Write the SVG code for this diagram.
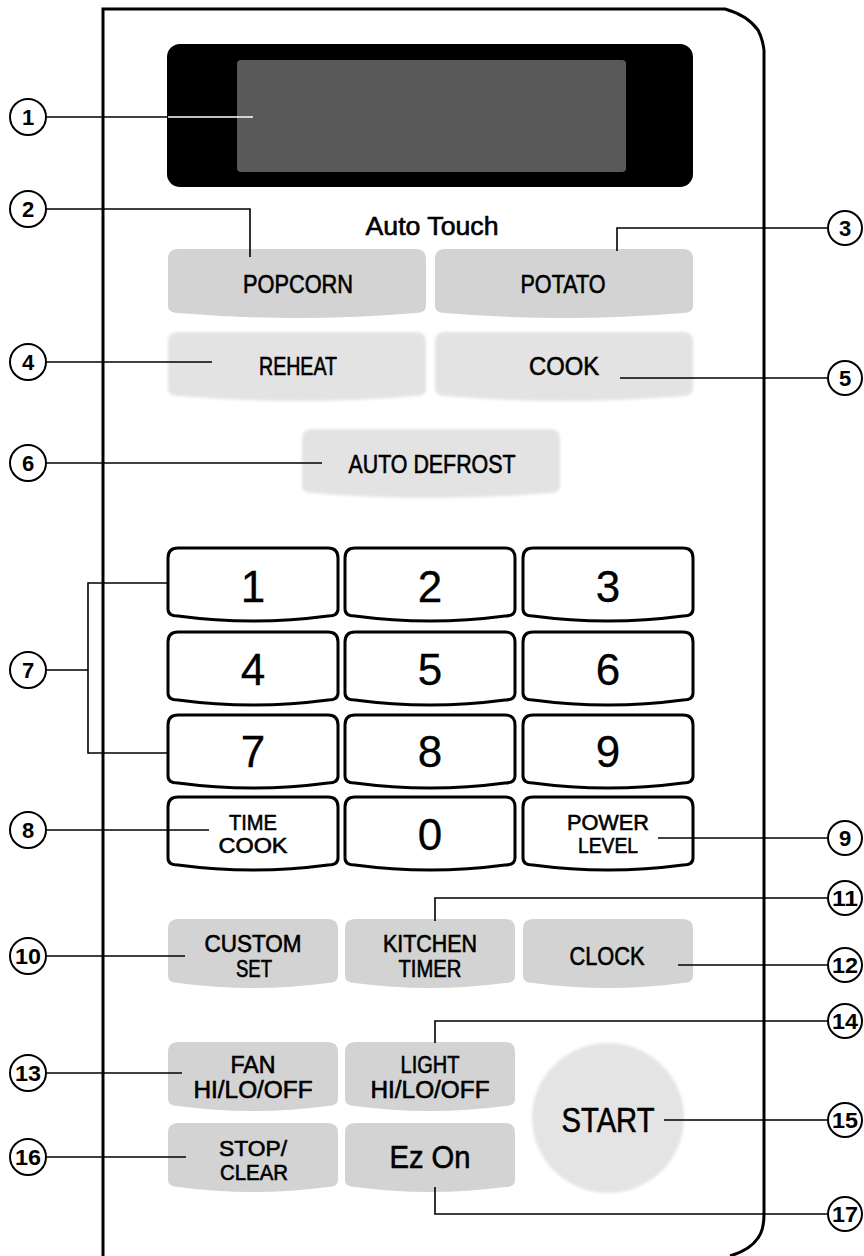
<svg xmlns="http://www.w3.org/2000/svg" width="864" height="1256" viewBox="0 0 864 1256">
<style>
.lbl{font-family:"Liberation Sans",Arial,sans-serif;fill:#000;stroke:#000;stroke-width:0.6;text-anchor:middle}
.num{font-family:"Liberation Sans",Arial,sans-serif;font-size:22px;font-weight:bold;fill:#000;text-anchor:middle}
.dig{font-family:"Liberation Sans",Arial,sans-serif;font-size:44px;fill:#000;stroke:#000;stroke-width:0.3;text-anchor:middle}
.call{fill:#fff;stroke:#000;stroke-width:2}
.lead{fill:none;stroke:#000;stroke-width:1.6}
.key{fill:#fff;stroke:#000;stroke-width:3}
.gray{fill:#d3d3d3}
.light{fill:#e3e3e3;filter:url(#soft)}
</style>
<defs>
<filter id="soft" x="-5%" y="-10%" width="110%" height="120%"><feGaussianBlur stdDeviation="1.5"/></filter>
<path id="keyShape" d="M0,10 Q0,0 10,0 H160 Q170,0 170,10 V61 Q170,68 160,68 Q85,78 10,68 Q0,68 0,61 Z"/>
<path id="btnS" d="M0,10 Q0,0 10,0 H160 Q170,0 170,10 V57 Q170,64 160,64 Q85,74 10,64 Q0,64 0,57 Z"/>
<path id="btnW" d="M0,10 Q0,0 10,0 H248 Q258,0 258,10 V57 Q258,64 248,64 Q129,74 10,64 Q0,64 0,57 Z"/>
</defs>
<rect width="864" height="1256" fill="#fff"/>
<g id="panel">
<path d="M103,1256 V9 H725 Q747,15 758,30 Q763,40 764,50 V1214 Q764,1230 758,1238 Q750,1250 730,1256" fill="none" stroke="#000" stroke-width="3"/>
</g>
<g id="display">
<rect x="167" y="44" width="526" height="143" rx="13" fill="#000"/>
<rect x="237" y="60" width="389" height="112" rx="4" fill="#595959"/>
</g>
<g id="autotouch-title"><text class="lbl" x="432" y="235" font-size="26" textLength="133" lengthAdjust="spacingAndGlyphs">Auto Touch</text></g>
<g id="btn-popcorn"><use href="#btnW" x="168" y="249" class="gray"/><text class="lbl" x="298" y="293" font-size="25" textLength="110" lengthAdjust="spacingAndGlyphs">POPCORN</text></g>
<g id="btn-potato"><use href="#btnW" x="435" y="249" class="gray"/><text class="lbl" x="563" y="293" font-size="25" textLength="85" lengthAdjust="spacingAndGlyphs">POTATO</text></g>
<g id="btn-reheat"><use href="#btnW" x="168" y="332" class="light"/><text class="lbl" x="298" y="375" font-size="25" textLength="78" lengthAdjust="spacingAndGlyphs">REHEAT</text></g>
<g id="btn-cook"><use href="#btnW" x="435" y="332" class="light"/><text class="lbl" x="564" y="375" font-size="25" textLength="70" lengthAdjust="spacingAndGlyphs">COOK</text></g>
<g id="btn-autodefrost"><use href="#btnW" x="302" y="429" class="light"/><text class="lbl" x="432" y="473" font-size="25" textLength="167" lengthAdjust="spacingAndGlyphs">AUTO DEFROST</text></g>
<g id="key-1"><use href="#keyShape" x="168" y="548" class="key"/><text class="dig" x="253" y="602">1</text></g>
<g id="key-2"><use href="#keyShape" x="345" y="548" class="key"/><text class="dig" x="430" y="602">2</text></g>
<g id="key-3"><use href="#keyShape" x="523" y="548" class="key"/><text class="dig" x="608" y="602">3</text></g>
<g id="key-4"><use href="#keyShape" x="168" y="632" class="key"/><text class="dig" x="253" y="685">4</text></g>
<g id="key-5"><use href="#keyShape" x="345" y="632" class="key"/><text class="dig" x="430" y="685">5</text></g>
<g id="key-6"><use href="#keyShape" x="523" y="632" class="key"/><text class="dig" x="608" y="685">6</text></g>
<g id="key-7"><use href="#keyShape" x="168" y="715" class="key"/><text class="dig" x="253" y="767">7</text></g>
<g id="key-8"><use href="#keyShape" x="345" y="715" class="key"/><text class="dig" x="430" y="767">8</text></g>
<g id="key-9"><use href="#keyShape" x="523" y="715" class="key"/><text class="dig" x="608" y="767">9</text></g>
<g id="key-timecook"><use href="#keyShape" x="168" y="797" class="key"/><text class="lbl" x="253" y="830" font-size="22" textLength="48" lengthAdjust="spacingAndGlyphs">TIME</text><text class="lbl" x="253" y="853" font-size="22" textLength="69" lengthAdjust="spacingAndGlyphs">COOK</text></g>
<g id="key-0"><use href="#keyShape" x="345" y="797" class="key"/><text class="dig" x="430" y="850">0</text></g>
<g id="key-powerlevel"><use href="#keyShape" x="523" y="797" class="key"/><text class="lbl" x="608" y="830" font-size="22" textLength="82" lengthAdjust="spacingAndGlyphs">POWER</text><text class="lbl" x="608" y="853" font-size="22" textLength="60" lengthAdjust="spacingAndGlyphs">LEVEL</text></g>
<g id="btn-customset"><use href="#btnS" x="168" y="919" class="gray"/><text class="lbl" x="253" y="952" font-size="23" textLength="97" lengthAdjust="spacingAndGlyphs">CUSTOM</text><text class="lbl" x="254" y="977" font-size="23" textLength="36" lengthAdjust="spacingAndGlyphs">SET</text></g>
<g id="btn-kitchentimer"><use href="#btnS" x="345" y="919" class="gray"/><text class="lbl" x="430" y="952" font-size="23" textLength="94" lengthAdjust="spacingAndGlyphs">KITCHEN</text><text class="lbl" x="430" y="977" font-size="23" textLength="63" lengthAdjust="spacingAndGlyphs">TIMER</text></g>
<g id="btn-clock"><use href="#btnS" x="523" y="919" class="gray"/><text class="lbl" x="607" y="965" font-size="25" textLength="75" lengthAdjust="spacingAndGlyphs">CLOCK</text></g>
<g id="btn-fan"><use href="#btnS" x="168" y="1042" class="gray"/><text class="lbl" x="253" y="1073" font-size="23" textLength="45" lengthAdjust="spacingAndGlyphs">FAN</text><text class="lbl" x="253" y="1098" font-size="23" textLength="119" lengthAdjust="spacingAndGlyphs">HI/LO/OFF</text></g>
<g id="btn-light"><use href="#btnS" x="345" y="1042" class="gray"/><text class="lbl" x="430" y="1073" font-size="23" textLength="59" lengthAdjust="spacingAndGlyphs">LIGHT</text><text class="lbl" x="430" y="1098" font-size="23" textLength="119" lengthAdjust="spacingAndGlyphs">HI/LO/OFF</text></g>
<g id="btn-stopclear"><use href="#btnS" x="168" y="1123" class="gray"/><text class="lbl" x="253" y="1156" font-size="22" textLength="68" lengthAdjust="spacingAndGlyphs">STOP/</text><text class="lbl" x="254" y="1180" font-size="22" textLength="68" lengthAdjust="spacingAndGlyphs">CLEAR</text></g>
<g id="btn-ezon"><use href="#btnS" x="345" y="1123" class="gray"/><text class="lbl" x="430" y="1168" font-size="32" textLength="81" lengthAdjust="spacingAndGlyphs">Ez On</text></g>
<g id="btn-start"><ellipse cx="608" cy="1118" rx="76" ry="75" fill="#e4e4e4" filter="url(#soft)"/><text class="lbl" x="608" y="1132" font-size="35" textLength="93" lengthAdjust="spacingAndGlyphs">START</text></g>
<g id="connectors">
<path class="lead" d="M46,117 H168"/>
<path d="M168,117 H253" fill="none" stroke="#fff" stroke-width="1.6"/>
<path class="lead" d="M46,209 H250 V257"/>
<path class="lead" d="M827,228 H617 V251"/>
<path class="lead" d="M46,362 H212"/>
<path class="lead" d="M827,378 H620"/>
<path class="lead" d="M46,463 H322"/>
<path class="lead" d="M46,670 H88 M168,583 H88 V753 H168"/>
<path class="lead" d="M46,830 H209"/>
<path class="lead" d="M827,838 H658"/>
<path class="lead" d="M46,956 H185"/>
<path class="lead" d="M827,898 H435 V921"/>
<path class="lead" d="M827,965 H678"/>
<path class="lead" d="M46,1073 H182"/>
<path class="lead" d="M827,1021 H435 V1043"/>
<path class="lead" d="M827,1120 H664"/>
<path class="lead" d="M46,1157 H186"/>
<path class="lead" d="M827,1214 H435 V1187"/>
</g>
<g id="callout-1"><circle class="call" cx="28" cy="117" r="18"/><text class="num" x="28" y="125">1</text></g>
<g id="callout-2"><circle class="call" cx="28" cy="209" r="18"/><text class="num" x="28" y="217">2</text></g>
<g id="callout-3"><circle class="call" cx="845" cy="228" r="17"/><text class="num" x="845" y="236">3</text></g>
<g id="callout-4"><circle class="call" cx="28" cy="362" r="18"/><text class="num" x="28" y="370">4</text></g>
<g id="callout-5"><circle class="call" cx="845" cy="378" r="17"/><text class="num" x="845" y="386">5</text></g>
<g id="callout-6"><circle class="call" cx="28" cy="463" r="18"/><text class="num" x="28" y="471">6</text></g>
<g id="callout-7"><circle class="call" cx="28" cy="670" r="18"/><text class="num" x="28" y="678">7</text></g>
<g id="callout-8"><circle class="call" cx="28" cy="830" r="18"/><text class="num" x="28" y="838">8</text></g>
<g id="callout-9"><circle class="call" cx="845" cy="838" r="17"/><text class="num" x="845" y="846">9</text></g>
<g id="callout-10"><circle class="call" cx="28" cy="956" r="18"/><text class="num" x="28" y="964" textLength="26" lengthAdjust="spacingAndGlyphs">10</text></g>
<g id="callout-11"><circle class="call" cx="845" cy="898" r="17"/><text class="num" x="845" y="906" textLength="26" lengthAdjust="spacingAndGlyphs">11</text></g>
<g id="callout-12"><circle class="call" cx="845" cy="965" r="17"/><text class="num" x="845" y="973" textLength="26" lengthAdjust="spacingAndGlyphs">12</text></g>
<g id="callout-13"><circle class="call" cx="28" cy="1073" r="18"/><text class="num" x="28" y="1081" textLength="26" lengthAdjust="spacingAndGlyphs">13</text></g>
<g id="callout-14"><circle class="call" cx="845" cy="1021" r="17"/><text class="num" x="845" y="1029" textLength="26" lengthAdjust="spacingAndGlyphs">14</text></g>
<g id="callout-15"><circle class="call" cx="845" cy="1120" r="17"/><text class="num" x="845" y="1128" textLength="26" lengthAdjust="spacingAndGlyphs">15</text></g>
<g id="callout-16"><circle class="call" cx="28" cy="1157" r="18"/><text class="num" x="28" y="1165" textLength="26" lengthAdjust="spacingAndGlyphs">16</text></g>
<g id="callout-17"><circle class="call" cx="845" cy="1214" r="17"/><text class="num" x="845" y="1222" textLength="26" lengthAdjust="spacingAndGlyphs">17</text></g>
</svg>
